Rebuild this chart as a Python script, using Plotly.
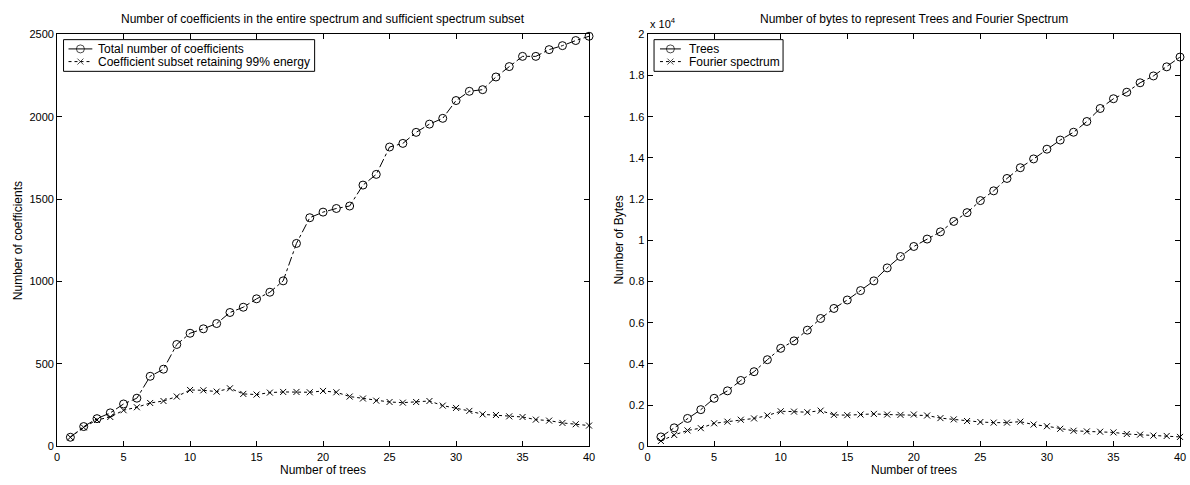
import plotly.graph_objects as go

# ---------------- data ----------------
trees = list(range(1, 41))

total_coeffs = [55, 120, 168, 203, 257, 292, 425, 468, 618, 686,
                713, 745, 812, 844, 895, 935, 1004, 1231, 1387, 1421,
                1443, 1458, 1585, 1650, 1816, 1838, 1905, 1955, 1990, 2098,
                2154, 2164, 2241, 2304, 2366, 2366, 2407, 2431, 2462, 2488]

subset_coeffs = [55, 115, 160, 178, 219, 237, 263, 275, 302, 342,
                 340, 332, 352, 318, 314, 326, 330, 330, 328, 336,
                 328, 302, 290, 277, 269, 265, 269, 275, 247, 233,
                 215, 194, 190, 182, 178, 162, 156, 142, 134, 126]

tree_bytes = [457, 898, 1354, 1780, 2331, 2693, 3197, 3622, 4205, 4756,
              5118, 5638, 6205, 6693, 7102, 7559, 8031, 8661, 9213, 9700,
              10060, 10411, 10916, 11343, 11927, 12401, 13002, 13523, 13950, 14423,
              14866, 15245, 15766, 16398, 16872, 17188, 17646, 17978, 18420, 18894]

fourier_bytes = [260, 551, 772, 882, 1118, 1197, 1291, 1354, 1496, 1701,
                 1685, 1654, 1732, 1528, 1512, 1543, 1575, 1543, 1528, 1543,
                 1496, 1370, 1307, 1228, 1181, 1150, 1150, 1197, 1055, 976,
                 850, 756, 724, 709, 677, 598, 567, 520, 504, 457]

x_ticks = [0, 5, 10, 15, 20, 25, 30, 35, 40]
left_y_ticks = [0, 500, 1000, 1500, 2000, 2500]
right_y_tickvals = [0, 2000, 4000, 6000, 8000, 10000, 12000, 14000, 16000, 18000, 20000]
right_y_ticktext = ["0", "0.2", "0.4", "0.6", "0.8", "1", "1.2", "1.4", "1.6", "1.8", "2"]

left_title = "Number of coefficients in the entire spectrum and sufficient spectrum subset"
right_title = "Number of bytes to represent Trees and Fourier Spectrum"
left_names = ["Total number of coefficients", "Coefficient subset retaining 99% energy"]
right_names = ["Trees", "Fourier spectrum"]

# ---------------- figure ----------------
W, H = 1190, 485
FONT = "Liberation Sans, Arial, sans-serif"
BLACK = "#000000"

CIRC = dict(symbol="circle-open", size=8, color=BLACK, line=dict(width=1, color=BLACK))
CROSS = dict(symbol="x-thin-open", size=6, color=BLACK, line=dict(width=1, color=BLACK))
CIRC_DASH = "dashdot"
CROSS_DASH = "dot"

fig = go.Figure()

series = [
    (total_coeffs, left_names[0], CIRC, CIRC_DASH, "x", "y"),
    (subset_coeffs, left_names[1], CROSS, CROSS_DASH, "x", "y"),
    (tree_bytes, right_names[0], CIRC, CIRC_DASH, "x2", "y2"),
    (fourier_bytes, right_names[1], CROSS, CROSS_DASH, "x2", "y2"),
]
for vals, name, mk, dash, xa, ya in series:
    fig.add_trace(go.Scatter(x=trees, y=vals, mode="lines+markers", name=name,
                             line=dict(color=BLACK, width=1, dash=dash),
                             marker=mk, cliponaxis=False, showlegend=False,
                             xaxis=xa, yaxis=ya))

y_top, y_bot = 29, 451.5
ydom = [1 - y_bot / H, 1 - y_top / H]
x1dom = [54.5 / W, 590.5 / W]
x2dom = [649.5 / W, 1186 / W]

axis_common = dict(showline=True, linecolor=BLACK, linewidth=1, mirror="ticks",
                   ticks="inside", ticklen=5, tickwidth=1, tickcolor=BLACK,
                   showgrid=False, zeroline=False,
                   tickfont=dict(family=FONT, size=11, color=BLACK))

fig.update_layout(
    width=W, height=H,
    margin=dict(l=0, r=0, t=0, b=0),
    paper_bgcolor="white", plot_bgcolor="rgba(0,0,0,0)",
    font=dict(family=FONT, size=12, color=BLACK),
    showlegend=False,
    xaxis=dict(domain=x1dom, range=[0, 40], tickvals=x_ticks, anchor="y", **axis_common),
    yaxis=dict(domain=ydom, range=[0, 2500], tickvals=left_y_ticks, anchor="x", **axis_common),
    xaxis2=dict(domain=x2dom, range=[0, 40], tickvals=x_ticks, anchor="y2", **axis_common),
    yaxis2=dict(domain=ydom, range=[0, 20000], tickvals=right_y_tickvals,
                ticktext=right_y_ticktext, anchor="x2", **axis_common),
    # pixel-space overlay used only for the hand-drawn legend boxes
    xaxis3=dict(domain=[0, 1], range=[0, W], visible=False, fixedrange=True, anchor="y3"),
    yaxis3=dict(domain=[0, 1], range=[H, 0], visible=False, fixedrange=True, anchor="x3"),
)

# ---------------- legends (MATLAB-style compact boxes) ----------------
shapes, ann = [], []
legend_specs = [
    # (names, box left, box right, line start, line end, text start)
    (left_names, 61, 314, 66, 90, 94),
    (right_names, 656, 786, 662, 683, 689),
]
box_top, box_bot = 34.5, 67
row_y = [44, 57]
styles = [(CIRC, CIRC_DASH), (CROSS, CROSS_DASH)]
mx, my, msym, msize = [], [], [], []
for names, bl, br, ls, le, ts in legend_specs:
    shapes.append(dict(type="rect", xref="x3", yref="y3", x0=bl, x1=br, y0=box_top, y1=box_bot,
                       line=dict(color=BLACK, width=1), fillcolor="white", layer="below"))
    for name, ry, (mk, dash) in zip(names, row_y, styles):
        shapes.append(dict(type="line", xref="x3", yref="y3", x0=ls, x1=le, y0=ry, y1=ry,
                           line=dict(color=BLACK, width=1, dash="solid" if mk is CIRC else "dot")))
        mx.append((ls + le) / 2)
        my.append(ry)
        msym.append(mk["symbol"])
        msize.append(mk["size"])
        ann.append(dict(text=name, x=ts, y=ry, xref="x3", yref="y3", showarrow=False,
                        xanchor="left", yanchor="middle", font=dict(size=12)))
fig.add_trace(go.Scatter(x=mx, y=my, mode="markers", xaxis="x3", yaxis="y3",
                         showlegend=False, hoverinfo="skip", cliponaxis=False,
                         marker=dict(symbol=msym, size=msize, color=BLACK,
                                     line=dict(width=1, color=BLACK))))

# ---------------- titles ----------------
ann.append(dict(text=left_title, x=(x1dom[0] + x1dom[1]) / 2, y=1 - 13 / H,
                xref="paper", yref="paper", showarrow=False,
                xanchor="center", yanchor="middle", font=dict(size=12)))
ann.append(dict(text=right_title, x=(x2dom[0] + x2dom[1]) / 2, y=1 - 13 / H,
                xref="paper", yref="paper", showarrow=False,
                xanchor="center", yanchor="middle", font=dict(size=12)))
for dom in (x1dom, x2dom):
    ann.append(dict(text="Number of trees", x=(dom[0] + dom[1]) / 2, y=1 - 476 / H,
                    xref="paper", yref="paper", showarrow=False,
                    xanchor="center", yanchor="middle", font=dict(size=12)))
ann.append(dict(text="Number of coefficients", x=15 / W, y=(ydom[0] + ydom[1]) / 2,
                xref="paper", yref="paper", showarrow=False, textangle=-90,
                xanchor="center", yanchor="middle", font=dict(size=12)))
ann.append(dict(text="Number of Bytes", x=621 / W, y=(ydom[0] + ydom[1]) / 2,
                xref="paper", yref="paper", showarrow=False, textangle=-90,
                xanchor="center", yanchor="middle", font=dict(size=12)))
ann.append(dict(text="x 10<sup>4</sup>", x=650 / W, y=1 - 17 / H,
                xref="paper", yref="paper", showarrow=False,
                xanchor="left", yanchor="middle", font=dict(size=11)))

fig.update_layout(annotations=ann, shapes=shapes)

fig.write_html("out.html")
